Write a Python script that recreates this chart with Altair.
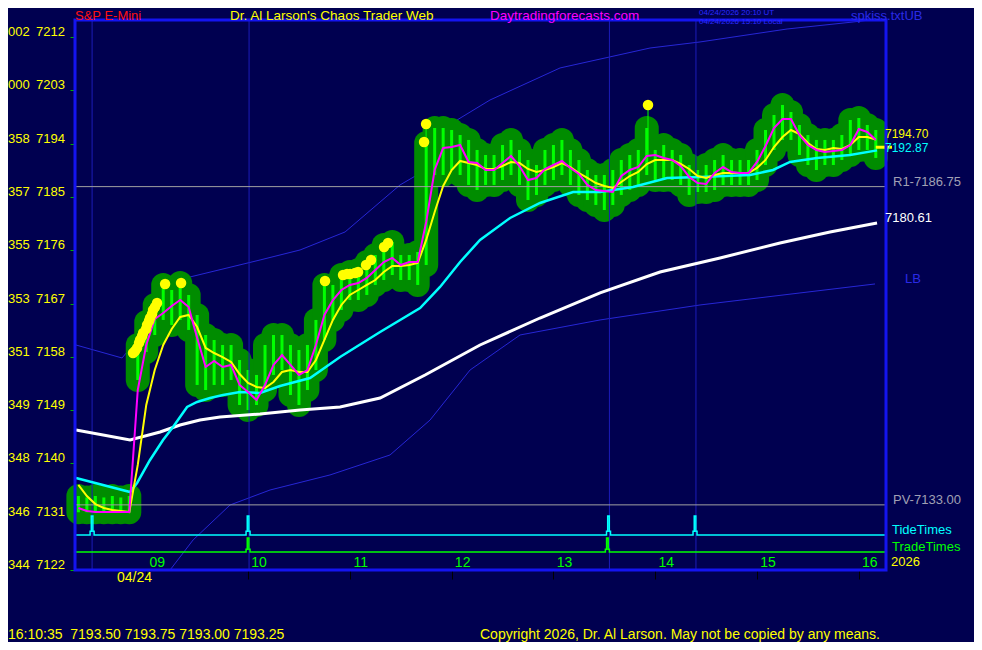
import altair as alt
import pandas as pd

BG = "#000050"
FONT = "Liberation Sans"
W, H = 811, 550
X_DOMAIN = [8.30, 16.267]
Y_DOMAIN = [7122.0, 7214.89]

# ---------------- data ----------------
bar_minutes = list(range(500, 975, 5))  # 08:20 .. 16:10, 5-minute bars

bar_high = [
    7134.50, 7134.25, 7134.50, 7134.25, 7134.50, 7134.25, 7134.50,
    7160.00, 7163.89, 7166.76, 7170.14, 7169.29, 7170.47, 7168.45, 7165.07,
    7161.69, 7160.85, 7160.00, 7160.00, 7157.47, 7155.78, 7154.94,
    7160.00, 7161.69, 7161.69, 7160.00, 7159.16, 7160.00, 7164.23,
    7170.14, 7170.14, 7171.82, 7172.33, 7172.67, 7174.02, 7175.20,
    7176.89, 7177.40, 7175.20, 7175.20, 7175.71, 7194.12, 7196.65,
    7196.65, 7196.31, 7195.47, 7194.63, 7192.94, 7192.09, 7192.09,
    7193.78, 7194.63, 7192.94, 7191.25, 7190.40, 7192.94, 7193.78,
    7194.63, 7192.94, 7191.25, 7189.56, 7188.71, 7188.71, 7189.56,
    7191.25, 7192.09, 7192.94, 7196.65, 7192.94, 7193.78, 7192.94,
    7192.09, 7190.40, 7189.56, 7190.40, 7191.25, 7192.09, 7191.25,
    7191.25, 7191.25, 7192.94, 7196.31, 7198.85, 7200.54, 7199.35,
    7197.16, 7195.47, 7194.63, 7194.63, 7194.63, 7195.47, 7198.00,
    7198.34, 7197.16, 7196.31,
]
bar_low = [
    7131.75, 7131.75, 7131.75, 7131.75, 7131.75, 7131.75, 7131.75,
    7154.09, 7158.82, 7161.69, 7164.23, 7163.38, 7164.23, 7162.54, 7153.25,
    7152.40, 7153.25, 7153.25, 7154.09, 7149.87, 7149.02, 7149.87,
    7152.40, 7154.94, 7155.78, 7151.56, 7149.87, 7152.40, 7155.78,
    7160.85, 7164.23, 7165.92, 7167.60, 7167.60, 7168.45, 7170.14,
    7170.98, 7171.82, 7170.98, 7170.98, 7170.14, 7173.51, 7188.71,
    7188.71, 7189.56, 7188.71, 7187.03, 7186.18, 7187.03, 7187.03,
    7187.87, 7188.71, 7187.03, 7184.49, 7185.34, 7187.03, 7187.87,
    7188.71, 7187.03, 7185.34, 7184.49, 7183.65, 7182.80, 7183.65,
    7185.34, 7186.18, 7187.03, 7188.71, 7187.87, 7187.87, 7187.87,
    7187.03, 7185.34, 7185.84, 7185.84, 7186.18, 7187.03, 7187.03,
    7187.03, 7187.03, 7187.87, 7190.40, 7192.94, 7194.63, 7194.63,
    7192.09, 7190.40, 7189.56, 7190.40, 7190.40, 7191.25, 7192.09,
    7192.94, 7192.94, 7191.59,
]
ma_fast = [
    7132.47, 7131.96, 7131.79, 7131.79, 7131.79, 7131.79, 7131.79,
    7152.40, 7160.00, 7164.39, 7165.41, 7166.59, 7167.60, 7166.42, 7161.18,
    7156.29, 7157.30, 7156.29, 7156.63, 7153.25, 7152.07, 7150.71,
    7153.25, 7156.63, 7158.31, 7156.63, 7154.94, 7155.78, 7160.00,
    7165.07, 7167.60, 7169.29, 7170.14, 7170.47, 7171.32, 7172.67,
    7174.02, 7174.70, 7173.51, 7174.02, 7174.02, 7180.78, 7189.56,
    7193.28, 7193.44, 7193.78, 7190.91, 7190.74, 7189.56, 7189.56,
    7190.74, 7191.92, 7190.23, 7187.87, 7188.21, 7189.73, 7190.40,
    7191.08, 7189.90, 7188.88, 7187.03, 7186.18, 7186.01, 7185.84,
    7188.54, 7189.56, 7190.06, 7191.92, 7192.09, 7191.59, 7191.25,
    7190.23, 7188.38, 7187.36, 7187.19, 7189.05, 7190.06, 7189.22,
    7189.05, 7189.05, 7190.91, 7193.61, 7196.65, 7198.17, 7198.17,
    7195.47, 7193.78, 7192.94, 7192.60, 7192.77, 7192.94, 7193.78,
    7196.48, 7195.98, 7194.63,
]
ma_mid = [
    7136.36, 7134.50, 7133.14, 7132.47, 7132.13, 7131.96, 7131.79,
    7139.74, 7149.87, 7155.78, 7160.00, 7162.71, 7164.73, 7165.07, 7163.04,
    7159.50, 7158.65, 7157.97, 7157.13, 7155.10, 7153.59, 7152.91,
    7152.74, 7153.75, 7155.44, 7155.78, 7155.44, 7155.44, 7157.47,
    7160.85, 7164.23, 7166.76, 7168.45, 7169.29, 7170.14, 7170.98,
    7172.33, 7173.35, 7173.35, 7173.51, 7173.85, 7177.74, 7182.47,
    7186.86, 7189.56, 7191.08, 7190.74, 7190.40, 7189.73, 7189.73,
    7190.23, 7190.91, 7190.74, 7189.73, 7189.22, 7189.56, 7190.06,
    7190.74, 7190.06, 7189.05, 7188.21, 7187.36, 7186.86, 7186.52,
    7187.53, 7188.54, 7189.22, 7190.57, 7191.25, 7191.25, 7191.25,
    7190.57, 7189.73, 7188.54, 7188.21, 7188.71, 7189.05, 7189.05,
    7189.05, 7189.05, 7189.90, 7191.25, 7193.44, 7195.13, 7196.31,
    7195.64, 7194.12, 7193.11, 7192.94, 7193.28, 7193.11, 7193.78,
    7195.13, 7195.13, 7194.70,
]

cyan_t = [8.310, 8.841, 8.910, 9.037, 9.165, 9.263, 9.401, 9.499, 9.627, 9.754, 9.921,
          10.118, 10.314, 10.609, 10.904, 11.297, 11.690, 11.886, 12.083, 12.279, 12.574,
          12.868, 13.193, 13.458, 13.782, 14.116, 14.440, 14.931, 15.157, 15.324, 15.589,
          15.914, 16.179]
cyan_p = [7137.54, 7135.18, 7136.70, 7140.58, 7143.96, 7146.15, 7149.53, 7150.38, 7151.05,
          7151.56, 7152.07, 7151.90, 7153.08, 7154.43, 7157.97, 7162.20, 7166.25, 7169.80,
          7174.02, 7177.74, 7181.45, 7183.99, 7185.84, 7185.84, 7186.69, 7188.21, 7188.38,
          7188.71, 7189.56, 7190.91, 7191.59, 7192.09, 7192.87]

white_t = [8.310, 8.841, 9.136, 9.332, 9.528, 9.725, 10.118, 10.511, 10.904, 11.297,
           11.739, 12.279, 12.868, 13.458, 14.047, 14.637, 15.226, 15.717, 16.179]
white_p = [7145.65, 7143.96, 7145.31, 7146.49, 7147.33, 7147.84, 7148.35, 7149.02, 7149.53,
           7151.05, 7154.94, 7160.00, 7164.56, 7168.79, 7172.33, 7174.70, 7177.23, 7179.09,
           7180.61]

ub_t = [8.310, 8.762, 9.430, 10.118, 10.511, 10.953, 11.493, 11.660, 12.053, 12.377,
        13.065, 13.949, 14.440, 15.295, 15.943, 16.267]
ub_p = [7160.00, 7157.81, 7171.49, 7174.36, 7176.05, 7179.09, 7187.03, 7188.71, 7198.00,
        7201.38, 7206.79, 7210.16, 7211.18, 7213.37, 7214.55, 7215.23]

lb_t = [9.234, 9.460, 9.823, 10.216, 10.805, 11.395, 11.788, 12.181, 12.672, 13.458,
        14.440, 15.422, 16.159]
lb_p = [7122.00, 7127.07, 7132.98, 7135.51, 7138.05, 7141.43, 7147.33, 7155.78, 7161.69,
        7164.23, 7166.76, 7168.79, 7170.31]

dot_t = [8.870, 8.890, 8.910, 8.929, 8.939, 8.959, 8.969, 8.998, 9.008, 9.027, 9.037,
         9.057, 9.067, 9.086, 9.106, 9.185, 9.342,
         10.756, 10.933, 10.972, 11.002, 11.051, 11.081, 11.159, 11.208, 11.336, 11.375,
         11.729, 11.749, 13.929]
dot_p = [7158.65, 7158.99, 7159.50, 7160.34, 7160.85, 7161.52, 7162.03, 7162.71, 7163.38,
         7164.06, 7164.57, 7165.24, 7165.92, 7166.42, 7167.10, 7170.31, 7170.48,
         7170.81, 7171.83, 7171.99, 7172.00, 7172.16, 7172.33, 7173.52, 7174.36, 7176.56,
         7177.23, 7194.29, 7197.33, 7200.54]

stick_t = [11.749, 13.929]
stick_top = [7197.33, 7200.54]
stick_bot = [7190.06, 7192.09]

last_t = [16.1667]
last_p = [7193.40]

vline_t = [8.468, 10.01, 13.55, 14.40]
tide_times = [8.468, 10.0, 13.541, 14.391]
trade_times = [10.0, 13.53]
tide_base, tide_peak = 7127.92, 7131.12
trade_base, trade_peak = 7125.04, 7127.41

r1_level = 7186.75
pv_level = 7133.00

y_ticks = [7122, 7131, 7140, 7149, 7158, 7167, 7176, 7185, 7194, 7203, 7212]
y_prefix = ["344", "346", "348", "349", "351", "353", "355", "357", "358", "000", "002"]
hour_ticks = [9, 10, 11, 12, 13, 14, 15, 16]
hour_labels = ["09", "10", "11", "12", "13", "14", "15", "16"]

# ---------------- frames ----------------
df_bars = pd.DataFrame({
    "t": [m / 60 for m in bar_minutes],
    "hi": bar_high, "lo": bar_low, "fast": ma_fast, "mid": ma_mid,
})

PX = (X_DOMAIN[1] - X_DOMAIN[0]) / W


def spike_frame(times, base, peak):
    step = base + (peak - base) * 0.2
    ts, ps = [X_DOMAIN[0]], [base]
    for t in times:
        ts += [t - 2 * PX, t - 2 * PX, t - 0.8 * PX, t - 0.8 * PX, t + 0.8 * PX, t + 0.8 * PX, t + 2 * PX, t + 2 * PX]
        ps += [base, step, step, peak, peak, step, step, base]
    ts.append(X_DOMAIN[1])
    ps.append(base)
    return pd.DataFrame({"t": ts, "p": ps, "i": list(range(len(ts)))})


xs = alt.Scale(domain=X_DOMAIN, nice=False, zero=False)
ys = alt.Scale(domain=Y_DOMAIN, nice=False, zero=False)
x_axis = alt.Axis(values=hour_ticks, labels=False, domain=False, grid=False, ticks=True,
                  tickColor="#000000", tickSize=9, tickWidth=1, title=None)
y_axis = alt.Axis(values=y_ticks, labels=False, domain=False, grid=False, ticks=True,
                  tickColor="#00B000", tickSize=5, tickWidth=1, title=None)


def X(f):
    return alt.X(f, scale=xs, axis=x_axis)


def Y(f):
    return alt.Y(f, scale=ys, axis=y_axis)


base = alt.Chart(df_bars)

ub = alt.Chart(pd.DataFrame({"t": ub_t, "p": ub_p})).mark_line(
    color="#2626D6", strokeWidth=1, clip=True).encode(x=X("t:Q"), y=Y("p:Q"))
lb = alt.Chart(pd.DataFrame({"t": lb_t, "p": lb_p})).mark_line(
    color="#2626D6", strokeWidth=1, clip=True).encode(x=X("t:Q"), y=Y("p:Q"))

blob = base.mark_rule(color="#008C00", strokeWidth=24, strokeCap="round").encode(
    x=X("t:Q"), y=Y("lo:Q"), y2="hi:Q")
bars = base.mark_rule(color="#00FF00", strokeWidth=3).encode(
    x=X("t:Q"), y=Y("lo:Q"), y2="hi:Q")

vlines = alt.Chart(pd.DataFrame({"t": vline_t})).mark_rule(
    color="#1C1CB8", strokeWidth=1).encode(x=X("t:Q"))
hlines = alt.Chart(pd.DataFrame({"p": [r1_level, pv_level]})).mark_rule(
    color="#A0A0A0", strokeWidth=1).encode(y=Y("p:Q"))

tide = alt.Chart(spike_frame(tide_times, tide_base, tide_peak)).mark_line(
    color="#00FFFF", strokeWidth=1.5).encode(x=X("t:Q"), y=Y("p:Q"), order="i:Q")
trade = alt.Chart(spike_frame(trade_times, trade_base, trade_peak)).mark_line(
    color="#00FF00", strokeWidth=1.5).encode(x=X("t:Q"), y=Y("p:Q"), order="i:Q")

sticks = alt.Chart(pd.DataFrame({"t": stick_t, "a": stick_top, "b": stick_bot})).mark_rule(
    color="#00FF00", strokeWidth=1).encode(x=X("t:Q"), y=Y("b:Q"), y2="a:Q")

white = alt.Chart(pd.DataFrame({"t": white_t, "p": white_p})).mark_line(
    color="#FFFFFF", strokeWidth=3).encode(x=X("t:Q"), y=Y("p:Q"))
cyan = alt.Chart(pd.DataFrame({"t": cyan_t, "p": cyan_p})).mark_line(
    color="#00FFFF", strokeWidth=2.5).encode(x=X("t:Q"), y=Y("p:Q"))
mid = base.mark_line(color="#FFFF00", strokeWidth=2).encode(x=X("t:Q"), y=Y("mid:Q"))
fast = base.mark_line(color="#FF00FF", strokeWidth=2).encode(x=X("t:Q"), y=Y("fast:Q"))
last_mark = alt.Chart(pd.DataFrame({"t": last_t, "p": last_p})).mark_rule(
    color="#FFFF00", strokeWidth=3).encode(x=X("t:Q"), x2=alt.value(W + 6), y=Y("p:Q"))

dots = alt.Chart(pd.DataFrame({"t": dot_t, "p": dot_p})).mark_circle(
    color="#FFFF00", size=110, opacity=1).encode(x=X("t:Q"), y=Y("p:Q"))

frame = alt.Chart(pd.DataFrame({"a": [0]})).mark_rect(
    filled=False, color="#1414F0", strokeWidth=3).encode(
    x=alt.value(0), x2=alt.value(W), y=alt.value(0), y2=alt.value(H))

df_ylab = pd.DataFrame({"p": y_ticks, "pre": y_prefix})
ynum = alt.Chart(df_ylab).mark_text(
    align="right", baseline="middle", dy=-5, font=FONT, fontSize=13, color="#FFFF00").encode(
    x=alt.value(-10), y=Y("p:Q"), text=alt.Text("p:Q", format="d"))
ypre = alt.Chart(df_ylab).mark_text(
    align="left", baseline="middle", dy=-5, font=FONT, fontSize=13, color="#FFFF00").encode(
    x=alt.value(-67), y=Y("p:Q"), text="pre:N")

hours = alt.Chart(pd.DataFrame({"t": hour_ticks, "s": hour_labels})).mark_text(
    align="center", baseline="middle", dx=11, font=FONT, fontSize=14, color="#00FF00").encode(
    x=X("t:Q"), y=alt.value(543), text="s:N")


def label(text, x, y, color, size=13, baseline="middle"):
    return alt.Chart(pd.DataFrame({"s": [text]})).mark_text(
        align="left", baseline=baseline, font=FONT, fontSize=size, color=color).encode(
        x=alt.value(x), y=alt.value(y), text="s:N")


NB = "\u00a0"
texts = [
    label("S&P E-Mini", 0, 0, "#FF1010", 13, "alphabetic"),
    label("Dr. Al Larson's Chaos Trader Web", 155, 0, "#FFFF00", 13.5, "alphabetic"),
    label("Daytradingforecasts.com", 415, 0, "#FF00FF", 13.5, "alphabetic"),
    label("04/24/2026 20:10 UT", 624, -5, "#2A2AFF", 8, "alphabetic"),
    label("04/24/2026 15:10 Local", 624, 4, "#2A2AFF", 8, "alphabetic"),
    label("spkiss.txtUB", 776, 0, "#2A2AE6", 13, "alphabetic"),
    label("7194.70", 810, 114, "#FFFF00", 12),
    label("7192.87", 810, 127.5, "#00FFFF", 12),
    label("R1-7186.75", 818, 162, "#A0A0B4"),
    label("7180.61", 810, 198, "#FFFFFF"),
    label("LB", 830, 259, "#2A2AE6"),
    label("PV-7133.00", 818, 480, "#A0A0B4"),
    label("TideTimes", 817, 510, "#00FFFF"),
    label("TradeTimes", 817, 527, "#00FF00"),
    label("2026", 816, 542, "#FFFF00"),
    label("04/24", 42, 558, "#FFFF00", 14),
    label("16:10:35" + NB + NB + "7193.50 7193.75 7193.00 7193.25", -67, 619, "#FFFF00", 14,
          "alphabetic"),
    label("Copyright 2026, Dr. Al Larson. May not be copied by any means.", 405, 619,
          "#FFFF00", 14, "alphabetic"),
]

chart = alt.layer(
    ub, lb, blob, bars, vlines, hlines, tide, trade, sticks,
    white, cyan, mid, fast, last_mark, dots, frame, ynum, ypre, hours, *texts,
).properties(
    width=W, height=H,
    autosize=alt.AutoSizeParams(type="none"),
    padding={"left": 67, "top": 12, "right": 88, "bottom": 72},
    background=BG,
).configure_view(stroke=None)

chart.save("out.html", embed_options={"renderer": "svg", "actions": False})
